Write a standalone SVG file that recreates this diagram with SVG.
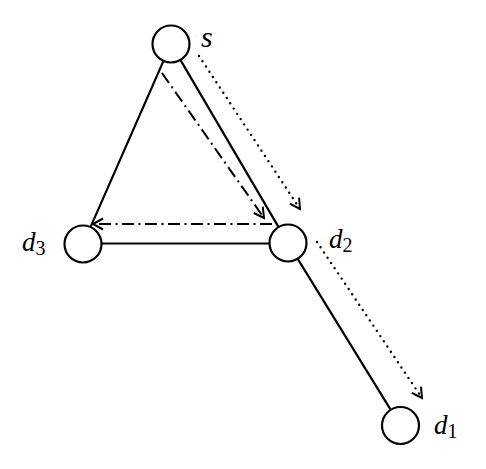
<svg xmlns="http://www.w3.org/2000/svg" width="486" height="469" viewBox="0 0 486 469">
<style>
.node{fill:#fff;stroke:#000;stroke-width:2.2}
.edge{stroke:#000;stroke-width:2.2;fill:none}
.dd{stroke:#000;stroke-width:2;fill:none;stroke-dasharray:12 4.5 2 4.5}
.dot{stroke:#000;stroke-width:2.4;fill:none;stroke-linecap:round;stroke-dasharray:0 6.3}
.lbl{font-family:"Liberation Serif",serif;font-style:italic;font-size:27px;fill:#000}
.sub{font-family:"Liberation Serif",serif;font-style:normal;font-size:20px;fill:#000}
</style>
<defs>
<marker id="ah" markerUnits="userSpaceOnUse" viewBox="-12 -7 14 14" markerWidth="14" markerHeight="14" refX="0" refY="0" orient="auto">
<path d="M-10,-5.5 L0,0 L-10,5.5" fill="none" stroke="#000" stroke-width="2"/>
</marker>
</defs>
<g id="connectors">
<line class="edge" x1="163.5" y1="60.9" x2="90.5" y2="227.1"/>
<line class="edge" x1="180.4" y1="59.9" x2="278.6" y2="227.1"/>
<line class="edge" x1="101.5" y1="243.5" x2="269.5" y2="243.5"/>
<line class="edge" x1="297.7" y1="258.8" x2="390.3" y2="409.2"/>
<line class="dd" x1="162" y1="73" x2="264" y2="218" marker-end="url(#ah)"/>
<line class="dd" x1="272" y1="224" x2="93" y2="224" marker-end="url(#ah)"/>
<line class="dot" x1="199" y1="56" x2="300" y2="209" marker-end="url(#ah)"/>
<line class="dot" x1="317" y1="242" x2="422" y2="398" marker-end="url(#ah)"/>
</g>
<g id="node-s">
<circle class="node" cx="171" cy="44" r="18.5"/>
<text class="lbl" x="201" y="47" style="font-size:30px">s</text>
</g>
<g id="node-d3">
<circle class="node" cx="83" cy="244" r="18.5"/>
<text class="lbl" x="22" y="251">d<tspan class="sub" dy="4">3</tspan></text>
</g>
<g id="node-d2">
<circle class="node" cx="288" cy="243" r="18.5"/>
<text class="lbl" x="329" y="248">d<tspan class="sub" dy="4">2</tspan></text>
</g>
<g id="node-d1">
<circle class="node" cx="400.5" cy="425.5" r="18.5"/>
<text class="lbl" x="434" y="434">d<tspan class="sub" dy="4">1</tspan></text>
</g>
</svg>
